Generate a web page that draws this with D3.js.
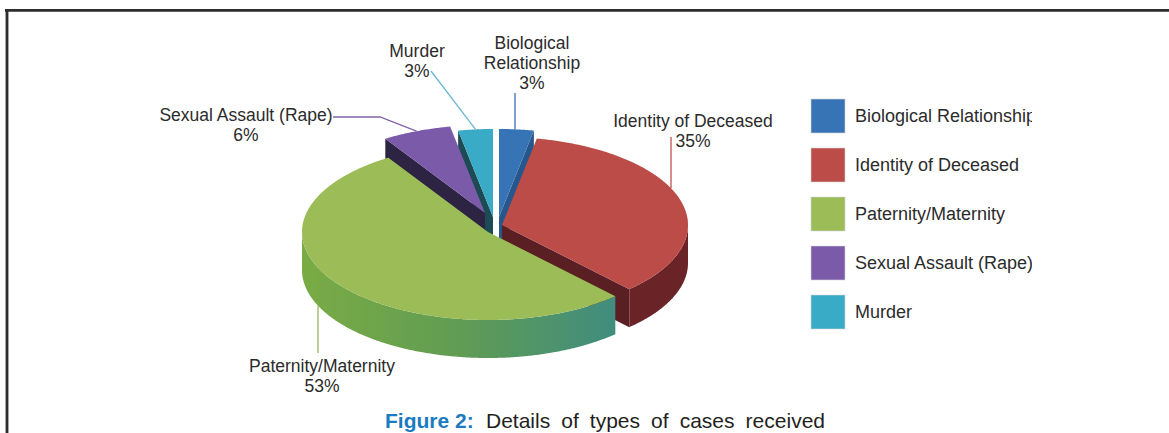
<!DOCTYPE html>
<html><head><meta charset="utf-8">
<script src="https://cdn.jsdelivr.net/npm/d3@7"></script>
<style>
body{margin:0;background:#fff}
svg{display:block}
text{font-family:"Liberation Sans",Arial,Helvetica,sans-serif}
</style>
</head><body>
<svg id="c" width="1169" height="433"></svg>
<script>
// ---------- data ----------
const categories = ["Biological Relationship","Identity of Deceased","Paternity/Maternity","Sexual Assault (Rape)","Murder"];
const values = [3, 35, 53, 6, 3];
const sliceLabels = [["Biological","Relationship","3%"],["Identity of Deceased","35%"],["Paternity/Maternity","53%"],["Sexual Assault (Rape)","6%"],["Murder","3%"]];
const legendLabels = categories.slice();
const captionBold = "Figure 2:";
const captionText = "Details of types of cases received";

// ---------- styles / layout ----------
const geo = {cx: 488, cy: 232, rx: 186, ry: 88, depth: 38};
const topColor  = d3.scaleOrdinal().domain(categories).range(["#3774b6","#bb4c47","#9bbc57","#7b5ba9","#3aabc6"]);
const wallColor = d3.scaleOrdinal().domain(categories).range(["#27568c","#5a1f22","#5f9a52","#2d2342","#1c4b55"]);
const sideColor = d3.scaleOrdinal().domain(categories).range(["#2a5d96","#6a2427","url(#greenSide)","#3b2d5a","#227080"]);
const leaderColor = d3.scaleOrdinal().domain(categories).range(["#3c6fb0","#c0504d","#94b85a","#7f64a8","#6ab8cc"]);
const explode = {"Biological Relationship":[11,-15],"Identity of Deceased":[14,-7],"Paternity/Maternity":[0,0],"Sexual Assault (Rape)":[-3,-19],"Murder":[5,-15]};
const labelLayout = {
  "Biological Relationship": {x: 532, y: 49, lh: 20, leader: {type: "v", x: 515, y0: 93}},
  "Identity of Deceased":    {x: 693, y: 127, lh: 20, leader: {type: "v", x: 671, y0: 137}},
  "Paternity/Maternity":     {x: 322, y: 372, lh: 19.5, leader: {type: "vb", x: 318, y0: 353}},
  "Sexual Assault (Rape)":   {x: 246, y: 121, lh: 20, leader: {type: "pts", pts: [[333,117],[380,117]]}},
  "Murder":                  {x: 417, y: 57, lh: 20, leader: {type: "pts", pts: [[431,71]]}}
};
const fontSize = 17.5, legendFont = 18;

const svg = d3.select("#c");
const defs = svg.append("defs");
const g1 = defs.append("linearGradient").attr("id","greenSide").attr("gradientUnits","userSpaceOnUse")
  .attr("x1",300).attr("x2",620).attr("y1",0).attr("y2",0);
g1.append("stop").attr("offset",0).attr("stop-color","#7aab44");
g1.append("stop").attr("offset",0.5).attr("stop-color","#609c53");
g1.append("stop").attr("offset",1).attr("stop-color","#3f8c80");
defs.append("clipPath").attr("id","legClip").append("rect").attr("x",800).attr("y",80).attr("width",232).attr("height",260);

// frame
svg.append("path").attr("d","M5,10.3H1169M7,9V433").attr("fill","none").attr("stroke","#2c2c2c").attr("stroke-width",2.8);

// ---------- pie ----------
const data = categories.map((c,i)=>({cat:c, value:values[i], lab:sliceLabels[i]}));
const arcs = d3.pie().sort(null).value(d=>d.value).startAngle(0).endAngle(2*Math.PI)(data);
const {cx, cy, rx, ry, depth} = geo;
const P = (a,o,h)=>[cx+o[0]+rx*Math.sin(a), cy+o[1]-ry*Math.cos(a)+h];
function arcPts(a0,a1,o,h){
  const n = Math.max(2, Math.ceil((a1-a0)/(Math.PI/360)));
  return d3.range(n+1).map(i=>P(a0+(a1-a0)*i/n,o,h));
}
const line = d3.line();
const poly = pts=>line(pts)+"Z";
const pieG = svg.append("g");
const ordered = arcs.slice().sort((a,b)=>{
  const ka = -Math.cos((a.startAngle+a.endAngle)/2) + explode[a.data.cat][1]/ry;
  const kb = -Math.cos((b.startAngle+b.endAngle)/2) + explode[b.data.cat][1]/ry;
  return ka-kb;
});
ordered.forEach(d=>{
  const c = d.data.cat, o = explode[c], a0 = d.startAngle, a1 = d.endAngle;
  const g = pieG.append("g");
  const C0 = [cx+o[0], cy+o[1]], Cd = [cx+o[0], cy+o[1]+depth];
  const eps = 1e-3;
  if (a0 > Math.PI+eps && a0 < 2*Math.PI-eps)
    g.append("path").attr("d",poly([C0,P(a0,o,0),P(a0,o,depth),Cd])).attr("fill",wallColor(c));
  if (a1 > eps && a1 < Math.PI-eps)
    g.append("path").attr("d",poly([C0,P(a1,o,0),P(a1,o,depth),Cd])).attr("fill",wallColor(c));
  const s = Math.max(a0, Math.PI/2), e = Math.min(a1, 3*Math.PI/2);
  if (e > s) {
    const pts = arcPts(s,e,o,0).concat(arcPts(s,e,o,depth).reverse());
    g.append("path").attr("d",poly(pts)).attr("fill",sideColor(c));
  }
  g.append("path").attr("d",poly([C0].concat(arcPts(a0,a1,o,0)))).attr("fill",topColor(c));
});

// ---------- labels & leaders ----------
const labG = svg.append("g").attr("font-size",fontSize).attr("fill","#2b2b2b").attr("text-anchor","middle");
arcs.forEach(d=>{
  const c = d.data.cat, o = explode[c], L = labelLayout[c], ld = L.leader;
  const mid = (d.startAngle+d.endAngle)/2;
  let pts;
  if (ld.type==="v" || ld.type==="vb") {
    let a = Math.asin((ld.x-cx-o[0])/rx);
    if (ld.type==="vb") a = Math.PI - a;
    const h = ld.type==="vb" ? depth : 0;
    pts = [[ld.x, ld.y0],[ld.x, P(a,o,h)[1]]];
  } else {
    pts = ld.pts.concat([P(mid,o,0)]);
  }
  labG.append("path").attr("d",line(pts)).attr("fill","none").attr("stroke",leaderColor(c)).attr("stroke-width",1.3);
  d.data.lab.forEach((t,i)=>{
    labG.append("text").attr("x",L.x).attr("y",L.y+i*L.lh).text(t);
  });
});

// ---------- legend ----------
const leg = svg.append("g").attr("clip-path","url(#legClip)");
const ly = d3.scalePoint().domain(legendLabels).range([99, 295]);
legendLabels.forEach(c=>{
  leg.append("rect").attr("x",811).attr("y",ly(c)).attr("width",34).attr("height",34)
    .attr("fill",topColor(c)).attr("stroke","#d8d8d8").attr("stroke-width",0.6);
  leg.append("text").attr("x",855).attr("y",ly(c)+23).attr("font-size",legendFont).attr("fill","#2b2b2b").text(c);
});

// ---------- caption ----------
svg.append("text").attr("x",385).attr("y",428).attr("font-size",21).attr("font-weight","bold")
  .attr("fill","#1b7bc0").text(captionBold);
const cap = svg.append("text").attr("x",486).attr("y",428).attr("font-size",21).attr("fill","#231f20").text(captionText);
const wlen = cap.node().getComputedTextLength();
const gaps = captionText.split(" ").length-1;
cap.attr("word-spacing", (339 - wlen)/gaps);
</script>
</body></html>
